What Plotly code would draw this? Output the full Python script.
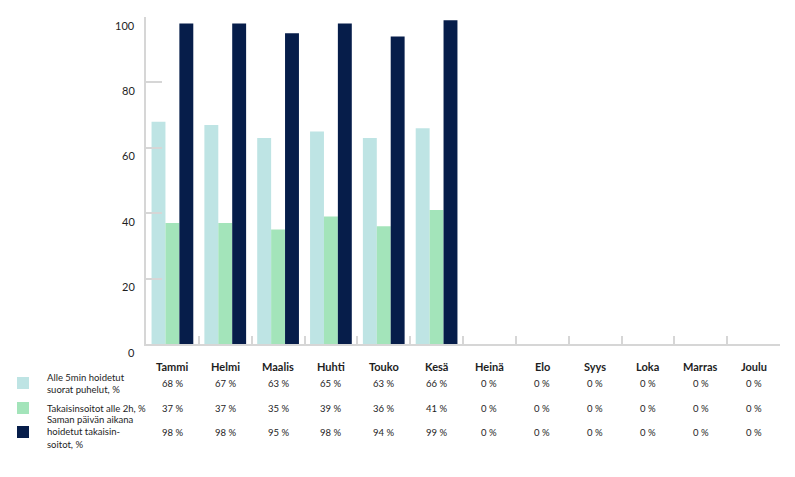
import plotly.graph_objects as go

months = ["Tammi", "Helmi", "Maalis", "Huhti", "Touko", "Kesä",
          "Heinä", "Elo", "Syys", "Loka", "Marras", "Joulu"]
series_names = [
    "Alle 5min hoidetut<br>suorat puhelut, %",
    "Takaisinsoitot alle 2h, %",
    "Saman päivän aikana<br>hoidetut takaisin-<br>soitot, %",
]
direct_calls = [68, 67, 63, 65, 63, 66, 0, 0, 0, 0, 0, 0]
callbacks_2h = [37, 37, 35, 39, 36, 41, 0, 0, 0, 0, 0, 0]
callbacks_same_day = [98, 98, 95, 98, 94, 99, 0, 0, 0, 0, 0, 0]
y_ticks = [0, 20, 40, 60, 80, 100]

colors = ["#bee4e4", "#a3e4ba", "#061d4a"]
series = [direct_calls, callbacks_2h, callbacks_same_day]
FONT = "Lato"
TXT = "#1e1e1e"

# page has an 8px body margin; figure sized to fit the window
OFF = 8
W, H = 795 - OFF, 477 - OFF
ml, mr, mt, mb = 146 - OFF, 15, 17 - OFF, 133
pw, ph = W - ml - mr, H - mt - mb


def px_x(page_x):
    return (page_x - OFF - ml) / pw


fig = go.Figure()
for name, vals, col in zip(series_names, series, colors):
    fig.add_trace(go.Bar(x=months, y=vals, name=name, marker_color=col,
                         marker_line_width=0, showlegend=False))

ann = []
for t in y_ticks:
    ann.append(dict(x=0, xref="paper", y=t, yref="y", text=str(t),
                    showarrow=False, xanchor="right", xshift=-9, yshift=-8,
                    font=dict(family=FONT, size=11, color=TXT)))
for m in months:
    ann.append(dict(x=m, xref="x", y=0, yref="paper", text="<b>%s</b>" % m,
                    showarrow=False, yanchor="middle", yshift=-22,
                    font=dict(family=FONT, size=11, color=TXT)))
row_shifts = [-39, -64, -88]
for vals, ys in zip(series, row_shifts):
    for m, v in zip(months, vals):
        ann.append(dict(x=m, xref="x", y=0, yref="paper", text="%d %%" % v,
                        showarrow=False, yanchor="middle", yshift=ys,
                        font=dict(family=FONT, size=9.5, color=TXT)))
for name, ys in zip(series_names, row_shifts):
    ann.append(dict(x=px_x(45), xref="paper", y=0, yref="paper", text=name,
                    showarrow=False, xanchor="left", yanchor="middle", align="left",
                    yshift=ys, font=dict(family=FONT, size=9.5, color=TXT)))

shapes = []
for col, ys in zip(colors, row_shifts):
    shapes.append(dict(type="rect", xref="paper", yref="paper",
                       x0=px_x(17), x1=px_x(29),
                       y0=(ys - 6) / ph, y1=(ys + 6) / ph,
                       fillcolor=col, line_width=0))

fig.update_layout(
    annotations=ann, shapes=shapes,
    width=W, height=H,
    margin=dict(l=ml, r=mr, t=mt, b=mb),
    paper_bgcolor="white", plot_bgcolor="white",
    barmode="group", bargap=0.21, bargroupgap=0,
    font=dict(family=FONT, color=TXT),
    xaxis=dict(type="category", showticklabels=False, showgrid=False,
               showline=True, linecolor="#d6d6d6", linewidth=1.5,
               ticks="inside", tickson="boundaries", ticklen=8,
               tickcolor="#d6d6d6", tickwidth=1.5, zeroline=False),
    yaxis=dict(range=[0, 100], tickvals=y_ticks, showticklabels=False,
               showgrid=False, showline=True, linecolor="#d6d6d6", linewidth=1.5,
               ticks="inside", ticklen=16, tickcolor="#d6d6d6", tickwidth=1.5,
               zeroline=False),
)

fig.write_html("out.html")
